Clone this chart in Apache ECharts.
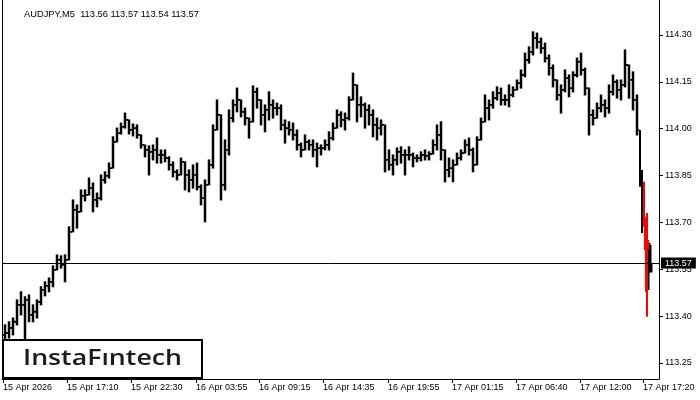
<!DOCTYPE html>
<html><head><meta charset="utf-8">
<script src="https://cdn.jsdelivr.net/npm/echarts@6/dist/echarts.min.js"></script>
<style>html,body{margin:0;padding:0;background:#fff}#c{width:700px;height:400px}</style>
</head><body><div id="c"></div>
<script>
const chartTitle = 'AUDJPY,M5  113.56 113.57 113.54 113.57';
const logoText = 'InstaF\u0131ntech';
// bar index (M5 slots from 15 Apr 11:50)
const times = [0,4,8,12,16,20,24,28,32,36,40,44,48,52,56,60,64,68,72,76,80,84,88,92,96,100,104,108,112,116,120,124,128,132,136,140,144,148,152,156,160,164,168,172,176,180,184,188,192,196,200,204,208,212,216,220,224,228,232,236,240,244,248,252,256,260,264,268,272,276,280,284,288,292,296,300,304,308,312,316,320,324,328,332,336,340,344,348,352,356,360,364,368,372,376,380,384,388,392,396,400,404,408,412,416,420,424,428,432,436,440,444,448,452,456,460,464,468,472,476,480,484,488,492,496,500,504,508,512,516,520,524,528,532,536,540,544,548,552,556,560,564,568,572,576,580,584,588,592,596,600,604,608,612,616,620,624,628,632,636,638,640,641,642,643,644,645,646,647,648];
const opens = [
113.340,113.346,113.362,113.382,113.436,113.436,113.452,113.404,113.414,113.446,
113.484,113.497,113.510,113.548,113.580,113.564,113.580,113.670,113.740,113.734,
113.785,113.788,113.810,113.772,113.778,113.836,113.849,113.874,113.958,113.986,
114.006,114.028,113.996,114.002,113.980,113.948,113.932,113.926,113.932,113.916,
113.916,113.906,113.884,113.862,113.852,113.894,113.852,113.836,113.852,113.814,
113.778,113.820,113.884,113.996,114.044,113.820,113.932,114.034,114.076,114.092,
114.054,114.034,114.022,114.118,114.092,114.044,114.060,114.076,114.066,114.066,
114.012,114.002,113.996,113.980,113.948,113.932,113.958,113.948,113.932,113.938,
113.938,113.948,113.970,114.002,114.044,114.028,114.034,114.092,114.140,114.076,
114.076,114.060,114.044,114.012,114.002,114.012,113.900,113.884,113.900,113.926,
113.916,113.916,113.916,113.906,113.906,113.916,113.913,113.919,113.948,113.980,
113.932,113.868,113.874,113.884,113.906,113.922,113.948,113.932,113.884,113.964,
114.022,114.066,114.076,114.098,114.114,114.092,114.092,114.108,114.124,114.146,
114.172,114.220,114.246,114.290,114.278,114.258,114.226,114.194,114.156,114.108,
114.124,114.162,114.130,114.172,114.214,114.188,114.130,114.044,114.034,114.066,
114.076,114.066,114.118,114.150,114.124,114.140,114.204,114.156,114.092,113.996,
113.852,113.830,113.708,113.628,113.596,113.564,113.548,113.564,113.596,113.56];
const highs = [
113.372,113.382,113.394,113.452,113.478,113.462,113.468,113.436,113.452,113.494,
113.510,113.522,113.561,113.596,113.593,113.596,113.686,113.772,113.756,113.804,
113.804,113.842,113.826,113.794,113.852,113.862,113.890,113.974,114.002,114.018,
114.050,114.028,114.015,114.012,113.980,113.948,113.945,113.948,113.970,113.932,
113.932,113.910,113.894,113.868,113.906,113.894,113.868,113.884,113.890,113.820,
113.836,113.900,114.012,114.092,114.044,113.964,114.060,114.092,114.130,114.092,
114.066,114.034,114.137,114.130,114.092,114.076,114.118,114.092,114.082,114.076,
114.028,114.022,114.018,113.996,113.954,113.980,113.964,113.964,113.954,113.948,
113.964,113.990,114.018,114.060,114.054,114.050,114.102,114.178,114.140,114.102,
114.082,114.076,114.060,114.034,114.028,114.012,113.932,113.916,113.938,113.942,
113.932,113.942,113.922,113.916,113.926,113.932,113.926,113.964,114.012,114.022,
113.932,113.906,113.900,113.922,113.932,113.964,113.970,113.938,113.974,114.034,
114.108,114.092,114.118,114.134,114.130,114.108,114.140,114.134,114.156,114.188,
114.242,114.262,114.310,114.306,114.290,114.274,114.236,114.204,114.156,114.140,
114.188,114.172,114.182,114.226,114.242,114.194,114.130,114.060,114.082,114.108,
114.092,114.140,114.172,114.156,114.156,114.252,114.204,114.182,114.108,113.996,
113.868,113.830,113.718,113.654,113.730,113.644,113.612,113.634,113.628,113.57];
const lows = [
113.324,113.330,113.340,113.372,113.404,113.327,113.382,113.382,113.394,113.436,
113.465,113.478,113.494,113.548,113.554,113.510,113.580,113.670,113.682,113.734,
113.769,113.788,113.734,113.750,113.772,113.826,113.842,113.874,113.958,113.983,
114.002,113.983,113.977,113.970,113.938,113.910,113.852,113.900,113.890,113.890,
113.894,113.868,113.846,113.836,113.852,113.804,113.798,113.810,113.804,113.756,
113.702,113.820,113.874,113.996,113.772,113.804,113.916,114.022,114.054,114.038,
114.012,113.970,114.022,114.066,114.012,113.990,114.028,114.034,114.044,113.996,
113.954,113.980,113.964,113.932,113.910,113.932,113.932,113.910,113.878,113.916,
113.932,113.932,113.964,114.002,114.006,113.996,114.028,114.092,114.022,114.038,
114.002,114.012,113.974,113.964,113.980,113.862,113.868,113.852,113.884,113.890,
113.852,113.900,113.878,113.894,113.897,113.900,113.900,113.919,113.932,113.900,
113.830,113.846,113.830,113.884,113.900,113.922,113.916,113.862,113.884,113.964,
114.022,114.028,114.066,114.092,114.076,114.076,114.070,114.102,114.124,114.130,
114.166,114.210,114.236,114.258,114.242,114.214,114.172,114.134,114.092,114.050,
114.118,114.102,114.118,114.166,114.172,114.108,113.980,114.012,114.034,114.054,
114.038,114.050,114.108,114.098,114.092,114.134,114.098,114.060,113.980,113.814,
113.666,113.686,113.612,113.478,113.398,113.484,113.484,113.538,113.542,113.54];
const closes = [
113.346,113.362,113.382,113.436,113.436,113.452,113.404,113.414,113.446,113.484,
113.497,113.510,113.548,113.580,113.564,113.580,113.670,113.740,113.734,113.785,
113.788,113.810,113.772,113.778,113.836,113.849,113.874,113.958,113.986,114.006,
114.028,113.996,114.002,113.980,113.948,113.932,113.926,113.932,113.916,113.916,
113.906,113.884,113.862,113.852,113.894,113.852,113.836,113.852,113.814,113.778,
113.820,113.884,113.996,114.044,113.820,113.932,114.034,114.076,114.092,114.054,
114.034,114.022,114.118,114.092,114.044,114.060,114.076,114.066,114.066,114.012,
114.002,113.996,113.980,113.948,113.932,113.958,113.948,113.932,113.938,113.938,
113.948,113.970,114.002,114.044,114.028,114.034,114.092,114.140,114.076,114.076,
114.060,114.044,114.012,114.002,114.012,113.900,113.884,113.900,113.926,113.916,
113.916,113.916,113.906,113.906,113.916,113.913,113.919,113.948,113.980,113.932,
113.868,113.874,113.884,113.906,113.922,113.948,113.932,113.884,113.964,114.022,
114.066,114.076,114.098,114.114,114.092,114.092,114.108,114.124,114.146,114.172,
114.220,114.246,114.290,114.278,114.258,114.226,114.194,114.156,114.108,114.124,
114.162,114.130,114.172,114.214,114.188,114.130,114.044,114.034,114.066,114.076,
114.066,114.118,114.150,114.124,114.140,114.204,114.156,114.092,113.996,113.852,
113.830,113.708,113.628,113.596,113.564,113.548,113.564,113.596,113.56,113.57];
const patternTimes = [640,641,642,643,644];
const lastPrice = 113.57;
const xTickPositions = [0,64,128,193,256,320,385,449,513,577,640];
const xTickLabels = ['15 Apr 2026','15 Apr 17:10','15 Apr 22:30','16 Apr 03:55','16 Apr 09:15','16 Apr 14:35','16 Apr 19:55','17 Apr 01:15','17 Apr 06:40','17 Apr 12:00','17 Apr 17:20'];
const yTickValues = [113.25,113.40,113.55,113.70,113.85,114.00,114.15,114.30];

const FONT = '"Liberation Sans", Arial, sans-serif';
const data = times.map((t, i) => [t, opens[i], highs[i], lows[i], closes[i],
  (i < times.length - 1 ? times[i + 1] - t : 1), patternTimes.includes(t) ? 1 : 0]);

// OHLC bar: high-low stem, open tick on the left, close tick on the right
function renderItem(params, api) {
  const t = api.value(0), o = api.value(1), h = api.value(2), l = api.value(3), c = api.value(4);
  const span = api.value(5), red = api.value(6);
  const x0 = api.coord([t, o])[0];
  const x1 = api.coord([t + span, o])[0];
  const w = x1 - x0;
  const yO = api.coord([t, o])[1], yH = api.coord([t, h])[1], yL = api.coord([t, l])[1], yC = api.coord([t, c])[1];
  const col = red ? '#ff0000' : '#000000';
  const children = [];
  if (w >= 3) {
    const sw = 2.5;
    const sx = x0 + (w - sw) / 2;
    children.push({type: 'rect', shape: {x: sx, y: yH - 0.5, width: sw, height: Math.max(1, yL - yH) + 1}, style: {fill: col}});
    children.push({type: 'rect', shape: {x: x0, y: yO - 0.9, width: sx - x0 + 0.5, height: 1.8}, style: {fill: col}});
    children.push({type: 'rect', shape: {x: sx + sw - 0.5, y: yC - 0.9, width: x1 - (sx + sw) + 0.5, height: 1.8}, style: {fill: col}});
  } else {
    const bw = red ? 2 : Math.max(1.5, w);
    children.push({type: 'rect', shape: {x: x0, y: yH, width: bw, height: Math.max(1, yL - yH)}, style: {fill: col}});
  }
  return {type: 'group', children};
}

const chart = echarts.init(document.getElementById('c'), null, {renderer: 'canvas'});

const cv = document.createElement('canvas').getContext('2d');
const logoFont = '600 21px "Open Sans", sans-serif';
cv.font = logoFont;
const logoW = cv.measureText(logoText).width;

chart.setOption({
  animation: false,
  backgroundColor: '#ffffff',
  title: {text: chartTitle, left: 19, top: 5, textStyle: {fontSize: 9.3, fontWeight: 'normal', color: '#000', fontFamily: FONT}},
  grid: {left: 2, right: 41, top: 0, bottom: 21},
  xAxis: {
    type: 'value', min: -1, max: 656,
    axisLine: {show: true, onZero: false, lineStyle: {color: '#000', width: 1}},
    axisTick: {show: true, customValues: xTickPositions, length: 4, lineStyle: {color: '#000'}},
    axisLabel: {customValues: xTickPositions, align: 'left', margin: 4, fontSize: 9, color: '#000', fontFamily: FONT,
      formatter: v => xTickLabels[xTickPositions.indexOf(v)] || ''},
    splitLine: {show: false}
  },
  yAxis: [{
    type: 'value', position: 'right', min: 113.1988, max: 114.412, scale: true,
    axisLine: {show: true, onZero: false, lineStyle: {color: '#000', width: 1}},
    axisTick: {show: true, customValues: yTickValues, length: 4, lineStyle: {color: '#000'}},
    axisLabel: {customValues: yTickValues, margin: 6, fontSize: 9, color: '#000', fontFamily: FONT, formatter: v => v.toFixed(2)},
    splitLine: {show: false}
  }, {
    type: 'value', position: 'left', min: 113.1988, max: 114.412,
    axisLine: {show: true, onZero: false, lineStyle: {color: '#000', width: 1}},
    axisTick: {show: false}, axisLabel: {show: false}, splitLine: {show: false}
  }],
  series: [{
    type: 'custom', renderItem, data, clip: true,
    encode: {x: 0, y: [2, 3]}, z: 3
  }, {
    type: 'line', data: [], z: 4,
    markLine: {
      silent: true, symbol: ['none', 'none'], animation: false,
      lineStyle: {color: '#000', width: 1, type: 'solid'},
      label: {show: true, position: 'end', distance: 2, formatter: () => lastPrice.toFixed(2),
        backgroundColor: '#000', color: '#fff', fontSize: 9, fontFamily: FONT, padding: [1, 4, 1, 4]},
      data: [{yAxis: lastPrice}]
    }
  }],
  graphic: [{
    type: 'group', z: 100,
    children: [
      {type: 'rect', shape: {x: 3, y: 340, width: 199, height: 38}, style: {fill: '#fff', stroke: '#000', lineWidth: 2}},
      {type: 'text', x: 23, y: 359, scaleX: 159 / logoW, scaleY: 1,
        style: {text: logoText, font: logoFont, fill: '#1c1c1c', verticalAlign: 'middle', align: 'left'}}
    ]
  }]
});
</script>
</body></html>
